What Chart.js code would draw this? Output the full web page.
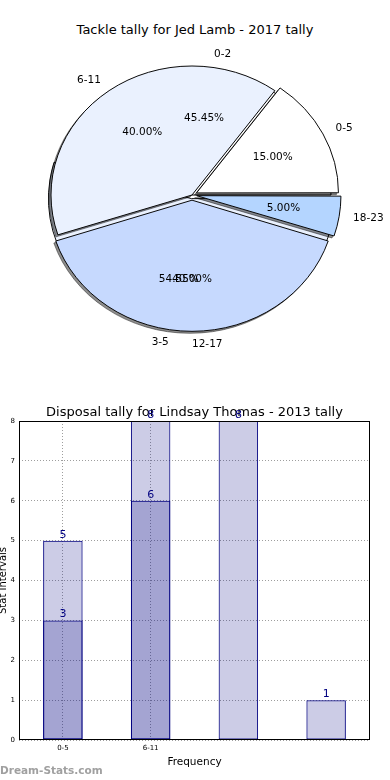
<!DOCTYPE html>
<html>
<head>
<meta charset="utf-8">
<script src="https://cdn.jsdelivr.net/npm/chart.js@4.4.0/dist/chart.umd.min.js"></script>
<style>
html,body{margin:0;padding:0;background:#fff;}
#wrap{position:relative;width:390px;height:780px;overflow:hidden;background:#fff;}
#pieTitle{position:absolute;left:0;top:21px;width:390px;text-align:center;font:13px "DejaVu Sans";color:#000;line-height:18px;white-space:nowrap;}
canvas{position:absolute;}
</style>
</head>
<body>
<div id="wrap">
  <div id="pieTitle"></div>
  <canvas id="pieA" width="384" height="390" style="left:0;top:0"></canvas>
  <canvas id="pieB" width="384" height="390" style="left:0;top:0"></canvas>
  <canvas id="bar" width="390" height="380" style="left:0;top:400px"></canvas>
</div>
<script>
// ---------- data ----------
const pieTitle = 'Tackle tally for Jed Lamb - 2017 tally';
const innerLabels = ['0-2', '3-5'];
const innerValues = [5, 6];
const outerLabels = ['0-5', '6-11', '12-17', '18-23'];
const outerValues = [3, 8, 8, 1];

const barTitle = 'Disposal tally for Lindsay Thomas - 2013 tally';
const barCategories = ['0-5', '6-11', '', ''];
const backValues = [5, 8, 8, 1];
const frontValues = [3, 6, null, null];
const yMin = 0, yMax = 8, yStep = 1;
const xAxisTitle = 'Frequency';
const yAxisTitle = 'Stat Intervals';
const watermark = 'Dream-Stats.com';

// ---------- styles ----------
const SY = 129 / 141;          // vertical squash of the pie
const PIE_R = 141;
const PIE_R_UNDER = 139;
const innerColors = ['#ffffff', '#eaf1fe'];
const outerColors = ['#ffffff', '#eaf1fe', '#c6d9fe', '#b4d5ff'];
const innerExplode = [0, 8];          // px
const outerExplode = [6, 0, 8, 8];    // px
const FONT = '"DejaVu Sans", sans-serif';

document.getElementById('pieTitle').textContent = pieTitle;

const rev = a => a.slice().reverse();
function chartOffset(px, frac) {
  const c = frac * Math.PI * 2;
  const fix = 1 - Math.sin(Math.min(Math.PI, c));
  return px * 4 / (1 + fix);
}
function offsetsFor(values, explode) {
  const tot = values.reduce((s, v) => s + v, 0);
  return values.map((v, i) => chartOffset(explode[i], v / tot));
}

function ellipsePlugin(shadow) {
  return {
    id: 'ellipse',
    beforeDatasetsDraw(chart) {
      const ctx = chart.ctx, a = chart.chartArea;
      const cx = (a.left + a.right) / 2, cy = (a.top + a.bottom) / 2;
      ctx.save();
      ctx.translate(cx, cy); ctx.scale(1, SY); ctx.translate(-cx, -cy);
      if (shadow && ('filter' in ctx)) {
        const meta = chart.getDatasetMeta(0);
        meta.data.forEach(arc => {
          ctx.save();
          ctx.translate(-2, 2 / SY);
          ctx.filter = 'brightness(0) opacity(0.45)';
          arc.draw(ctx);
          ctx.restore();
        });
      }
    },
    afterDatasetsDraw(chart) { chart.ctx.restore(); }
  };
}

function pieConfig(labels, values, colors, offsets, radius, plugins) {
  return {
    type: 'pie',
    data: {
      labels: labels,
      datasets: [{
        data: values,
        backgroundColor: colors,
        borderColor: '#000',
        borderWidth: 1,
        offset: offsets,
        hoverOffset: 0,
        radius: radius
      }]
    },
    options: {
      responsive: false, animation: false, events: [],
      rotation: 90,
      layout: { padding: 0 },
      plugins: { legend: { display: false }, tooltip: { enabled: false }, title: { display: false } }
    },
    plugins: plugins
  };
}

const chartA = new Chart(document.getElementById('pieA'),
  pieConfig(rev(innerLabels), rev(innerValues), rev(innerColors),
            rev(offsetsFor(innerValues, innerExplode)), PIE_R_UNDER, [ellipsePlugin(false)]));

function drawPieLabels(chart, srcChart, labelRadius) {
  const ctx = chart.ctx;
  const meta = srcChart.getDatasetMeta(0);
  const labels = srcChart.data.labels;
  const vals = srcChart.data.datasets[0].data;
  const tot = vals.reduce((s, v) => s + v, 0);
  ctx.save();
  ctx.font = '10.5px ' + FONT;
  ctx.fillStyle = '#000';
  ctx.textBaseline = 'middle';
  meta.data.forEach((arc, i) => {
    const p = arc.getProps(['x', 'y', 'startAngle', 'endAngle', 'outerRadius'], true);
    const R = labelRadius || p.outerRadius;
    const mid = (p.startAngle + p.endAngle) / 2;
    const circ = p.endAngle - p.startAngle;
    const o = (arc.options.offset || 0) / 4;
    const t = o * (1 + (1 - Math.sin(Math.min(Math.PI, circ))));
    const c = Math.cos(mid), s = Math.sin(mid);
    const bx = p.x + c * t, by = p.y + s * t;
    const mapY = y => p.y + (y - p.y) * SY;
    ctx.textAlign = (Math.abs(c) < 1e-6 || c > 0) ? 'left' : 'right';
    ctx.fillText(labels[i], bx + c * R * 1.1, mapY(by + s * R * 1.1));
    ctx.textAlign = 'center';
    const pct = (vals[i] / tot * 100).toFixed(2) + '%';
    ctx.fillText(pct, bx + c * R * 0.6, mapY(by + s * R * 0.6));
  });
  ctx.restore();
}

const chartB = new Chart(document.getElementById('pieB'),
  pieConfig(rev(outerLabels), rev(outerValues), rev(outerColors),
            rev(offsetsFor(outerValues, outerExplode)), PIE_R,
            [ellipsePlugin(true), {
              id: 'pieLabels',
              afterDraw(chart) {
                const R = chart.getDatasetMeta(0).data[0].outerRadius;
                drawPieLabels(chart, chartA, R);
                drawPieLabels(chart, chart, R);
              }
            }]));

// ---------- bar chart ----------
const GRID = 'rgba(0,0,0,0.38)';
const barPlugin = {
  id: 'barDecor',
  beforeDatasetsDraw(chart) {
    const { ctx, chartArea: a } = chart;
    ctx.save();
    ctx.font = '13px ' + FONT;
    ctx.fillStyle = '#000';
    ctx.textAlign = 'center';
    ctx.textBaseline = 'middle';
    ctx.fillText(barTitle, (a.left + a.right) / 2, a.top - 8);
    ctx.restore();
  },
  afterDatasetsDraw(chart) {
    const { ctx, chartArea: a } = chart;
    ctx.save();
    ctx.strokeStyle = '#000';
    ctx.lineWidth = 1;
    ctx.strokeRect(a.left + 0.5, a.top + 0.5, a.right - a.left - 1, a.bottom - a.top - 1);
    ctx.font = '11px ' + FONT;
    ctx.fillStyle = '#000080';
    ctx.textAlign = 'center';
    ctx.textBaseline = 'alphabetic';
    chart.data.datasets.forEach((ds, di) => {
      const meta = chart.getDatasetMeta(di);
      meta.data.forEach((bar, i) => {
        const v = ds.data[i];
        if (v === null || v === undefined) return;
        ctx.fillText(String(v), bar.x, bar.y - 3);
      });
    });
    ctx.restore();
  },
  afterDraw(chart) {
    const ctx = chart.ctx;
    ctx.save();
    ctx.font = 'bold 10.5px ' + FONT;
    ctx.fillStyle = '#a0a0a0';
    ctx.textAlign = 'left';
    ctx.textBaseline = 'alphabetic';
    ctx.fillText(watermark, 0, chart.height - 6);
    ctx.restore();
  }
};

new Chart(document.getElementById('bar'), {
  type: 'bar',
  data: {
    labels: barCategories,
    datasets: [
      { data: frontValues, order: 0, grouped: false,
        backgroundColor: 'rgba(0,0,128,0.2)', borderColor: '#000080', borderWidth: 1, borderSkipped: false,
        categoryPercentage: 1, barPercentage: 0.45 },
      { data: backValues, order: 1, grouped: false,
        backgroundColor: 'rgba(0,0,128,0.2)', borderColor: '#000080', borderWidth: 1, borderSkipped: false,
        categoryPercentage: 1, barPercentage: 0.45 }
    ]
  },
  options: {
    responsive: false, animation: false, events: [],
    layout: { padding: { top: 21, right: 20, left: 0, bottom: 0 } },
    plugins: { legend: { display: false }, tooltip: { enabled: false }, title: { display: false } },
    scales: {
      x: {
        offset: true,
        grid: {
          offset: false, drawTicks: false, lineWidth: 1,
          color: c => (c.tick && c.tick.label) ? GRID : 'rgba(0,0,0,0)'
        },
        border: { display: false, dash: [1, 2] },
        ticks: { font: { size: 7, family: FONT }, color: '#000', padding: 4, maxRotation: 0, autoSkip: false },
        title: { display: true, text: xAxisTitle, font: { size: 10.5, family: FONT }, color: '#000', padding: { top: 0, bottom: 11 } },
        afterFit(scale) { scale.height = 40; }
      },
      y: {
        min: yMin, max: yMax,
        ticks: { stepSize: yStep, font: { size: 7, family: FONT }, color: '#000', padding: 4 },
        grid: { drawTicks: false, color: GRID, lineWidth: 1 },
        border: { display: false, dash: [1, 2] },
        title: { display: true, text: yAxisTitle, font: { size: 10, family: FONT }, color: '#000', padding: { top: -2.5, bottom: 0 } },
        afterFit(scale) { scale.width = 19; }
      }
    }
  },
  plugins: [barPlugin]
});
</script>
</body>
</html>
